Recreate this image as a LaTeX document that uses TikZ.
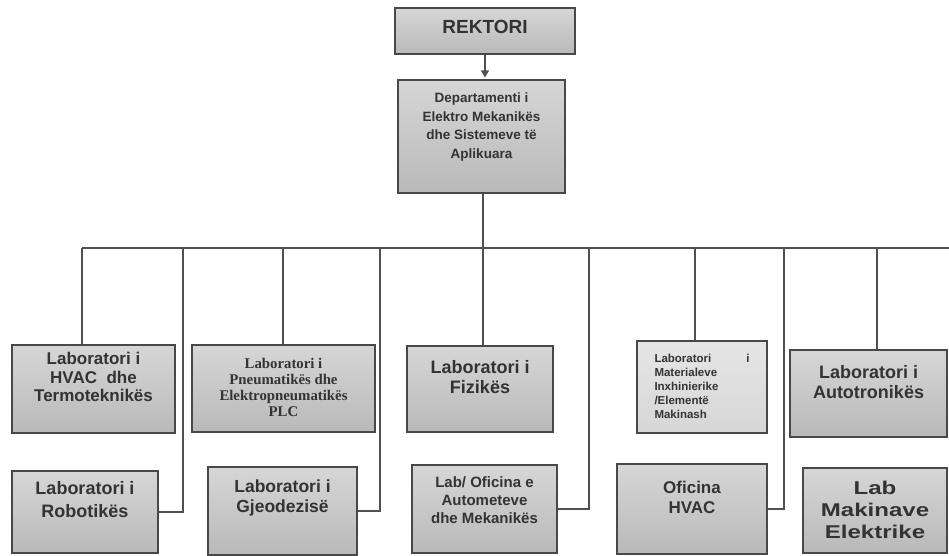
\documentclass[tikz,border=0pt]{standalone}
\usepackage{fontspec}
\setmainfont{Liberation Sans}
\newfontfamily\serifb{Liberation Serif}
\newfontfamily\widesans[FakeStretch=1.3]{Liberation Sans}
\usetikzlibrary{arrows.meta}
\definecolor{boxedge}{HTML}{484848}
\definecolor{txt}{HTML}{333333}
\definecolor{connc}{HTML}{505050}
\newcommand\fsz[2]{\fontsize{#1}{#2}\selectfont\bfseries}
\tikzset{
  orgbox/.style={draw=boxedge, line width=2.6pt, top color=gray!32, middle color=gray!8, bottom color=gray!55, inner sep=0pt},
  lightbox/.style={draw=boxedge, line width=2.6pt, top color=gray!20, middle color=white, bottom color=gray!32, inner sep=0pt},
  lbl/.style={text=txt, align=center, inner sep=0pt},
  connector/.style={draw=connc, line width=1.3pt},
}
\begin{document}
\begin{tikzpicture}[x=1pt,y=-1pt]
\useasboundingbox[fill=white] (0,0) rectangle (949,555);

% boxes
\node[orgbox, minimum width=180pt, minimum height=46pt] (rek) at (485,31) {};
\node[orgbox, minimum width=167pt, minimum height=113pt] (dept) at (481.5,136.5) {};
\node[orgbox, minimum width=163pt, minimum height=88pt] (hvac) at (93.5,389) {};
\node[orgbox, minimum width=146pt, minimum height=82pt] (robot) at (85,512) {};
\node[orgbox, minimum width=183pt, minimum height=87pt] (pneu) at (283.5,388.5) {};
\node[orgbox, minimum width=149pt, minimum height=88pt] (gjeo) at (282.5,511) {};
\node[orgbox, minimum width=146pt, minimum height=86pt] (fiz) at (480,389) {};
\node[orgbox, minimum width=145pt, minimum height=88pt] (labof) at (484.5,509) {};
\node[lightbox, minimum width=130pt, minimum height=92pt] (mat) at (702,387) {};
\node[orgbox, minimum width=157pt, minimum height=87pt] (auto) at (868.5,393.5) {};
\node[orgbox, minimum width=150pt, minimum height=90pt] (ofh) at (692,509) {};
\node[orgbox, minimum width=144pt, minimum height=85pt] (labmak) at (875,510.5) {};

% texts
\node[lbl, font=\fsz{19}{20}] (rekT) at ([yshift=4pt]rek.center) {REKTORI};
\node[lbl, font=\fsz{13.5}{18.5}] (deptT) at ([yshift=9.5pt]dept.center) {Departamenti i\\Elektro Mekanikës\\dhe Sistemeve të\\Aplikuara};
\node[lbl, font=\fsz{17}{18.5}] (hvacT) at ([yshift=12pt]hvac.center) {Laboratori i\\HVAC\ \ dhe\\Termoteknikës};
\node[lbl, font=\fsz{18}{23}] (robotT) at ([yshift=12pt]robot.center) {Laboratori i\\Robotikës};
\node[lbl, font=\serifb\fsz{14.8}{16}] (pneuT) at ([yshift=1.5pt]pneu.center) {Laboratori i\\Pneumatikës dhe\\Elektropneumatikës\\PLC};
\node[lbl, font=\fsz{17.5}{20}] (gjeoT) at ([yshift=13pt]gjeo.center) {Laboratori i\\Gjeodezisë};
\node[lbl, font=\fsz{18}{20}] (fizT) at ([yshift=12pt]fiz.center) {Laboratori i\\Fizikës};
\node[lbl, font=\fsz{15}{18}] (labofT) at ([yshift=9pt]labof.center) {Lab/ Oficina e\\Autometeve\\dhe Mekanikës};
\node[lbl, font=\fsz{11.5}{14}, align=left, text width=95pt] (matT) at ([yshift=1pt]mat.center) {Laboratori\hfill i\\Materialeve\\Inxhinierike\\/Elementë\\Makinash};
\node[lbl, font=\fsz{18}{20}] (autoT) at ([yshift=11.5pt]auto.center) {Laboratori i\\Autotronikës};
\node[lbl, font=\fsz{17}{20}] (ofhT) at ([yshift=12pt]ofh.center) {Oficina\\HVAC};
\node[lbl, font=\widesans\fsz{18.5}{22}] (labmakT) at ([yshift=0.5pt]labmak.center) {Lab\\Makinave\\Elektrike};

% bus coordinates
\coordinate (b1) at (82,248);
\coordinate (b2) at (183,248);
\coordinate (b3) at (283,248);
\coordinate (b4) at (380,248);
\coordinate (b5) at (483,248);
\coordinate (b6) at (589,248);
\coordinate (b7) at (695,248);
\coordinate (b8) at (784,248);
\coordinate (b9) at (877,248);
\coordinate (bR) at (949,248);

% connectors
\draw[connector, -{Triangle[length=7pt,width=8pt]}, shorten >=1.3pt] (rek.south) -- (rek.south |- dept.north);
\draw[connector] (b5 |- dept.south) -- (b5);
\draw[connector] (b1) -- (bR);
\draw[connector] (b1) -- (b1 |- hvac.north);
\draw[connector] (b2) |- (robot.east);
\draw[connector] (b3) -- (b3 |- pneu.north);
\draw[connector] (b4) |- (gjeo.east);
\draw[connector] (b5) -- (b5 |- fiz.north);
\draw[connector] (b6) |- (labof.east);
\draw[connector] (b7) -- (b7 |- mat.north);
\draw[connector] (b8) |- (ofh.east);
\draw[connector] (b9) -- (b9 |- auto.north);
\end{tikzpicture}
\end{document}
